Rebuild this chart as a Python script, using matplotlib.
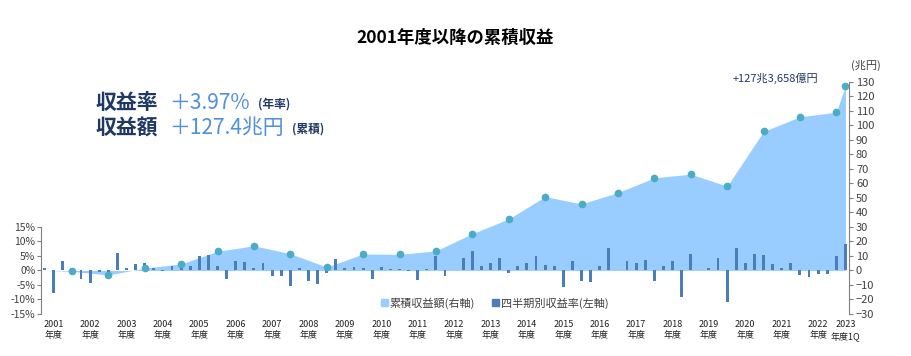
import numpy as np
import matplotlib
matplotlib.use("Agg")
import matplotlib.pyplot as plt
from matplotlib.patches import Patch

plt.rcParams['font.family'] = ['Noto Sans CJK JP', 'DejaVu Sans']

# quarterly return (%) 2001 Q1 .. 2023 Q1, left axis
quarterly_return = [
    0.8, -7.7, 3.2, 0.8,      # 2001
    -3.1, -4.2, -0.6, -1.2,   # 2002
    6.1, 0.8, 2.4, 2.6,       # 2003
    0.7, -0.3, 1.6, 1.6,      # 2004
    1.4, 4.9, 5.2, 1.6,       # 2005
    -2.8, 3.1, 2.8, 0.8,      # 2006
    2.6, -1.9, -1.9, -5.5,    # 2007
    1.0, -3.6, -4.8, -0.9,    # 2008
    3.8, 0.7, 1.2, 1.0,       # 2009
    -3.1, 1.2, 0.5, 0.5,      # 2010
    -0.2, -3.4, 0.4, 4.9,     # 2011
    -2.0, 0.3, 4.4, 6.6,      # 2012
    1.5, 2.5, 4.4, -0.8,      # 2013
    1.5, 2.5, 4.9, 2.0,       # 2014
    1.7, -5.7, 3.3, -3.5,     # 2015
    -4.0, 1.6, 7.6, 0.1,      # 2016
    3.3, 2.7, 3.75, -3.6,     # 2017
    1.4, 3.1, -9.3, 5.8,      # 2018
    0.1, 0.9, 4.2, -10.8,     # 2019
    7.8, 2.7, 5.7, 5.5,       # 2020
    2.3, 0.8, 2.5, -1.4,      # 2021
    -2.2, -1.1, -1.1, 5.0,    # 2022
    9.1,                      # 2023 1Q
]

# cumulative return (trillion yen) at each fiscal year end, right axis
cum_years = list(range(2001, 2024))
cum_return = [-0.6, -3.1, 1.6, 4.5, 13.2, 17.0, 11.6, 2.3, 11.4, 11.1, 13.5,
              25.4, 35.5, 50.9, 45.9, 53.7, 63.8, 66.4, 58.1, 95.8, 105.9,
              109.1, 127.4]

year_labels = [f"{y}\n年度" for y in range(2001, 2023)] + ["2023\n年度1Q"]

bar_color = '#4A7EBB'
area_color = '#99CCFF'
dot_color = '#4BACC6'
navy = '#1F3864'
light_blue = '#4F8FDB'
grey = '#404040'

n_q = len(quarterly_return)
xq = np.arange(n_q)
# cumulative points sit on the last quarter of each year (and 2023 1Q)
x_cum = np.append(np.arange(3, n_q - 1, 4), n_q - 1)
x_area = np.insert(x_cum, 0, 0)
y_area = np.insert(np.array(cum_return), 0, 0.0)

fig = plt.figure(figsize=(9.11, 3.56), dpi=100)
ax = fig.add_axes([0.045, 0.118, 0.887, 0.652])
ax2 = ax.twinx()

# area on the right axis (behind), bars on the left axis (front)
ax2.fill_between(x_area, y_area, 0, color=area_color, lw=0, zorder=1)
ax2.set_ylim(-30, 130)
ax.set_zorder(ax2.get_zorder() + 1)
ax.patch.set_visible(False)

ax.bar(xq, quarterly_return, width=0.32, color=bar_color, zorder=2)
ax.plot(x_cum, cum_return, 'o', color=dot_color, ms=4.5, zorder=3,
        transform=ax2.transData)

ax.set_xlim(-0.4, n_q - 0.6)
ax.set_ylim(-15, 65)
ax.set_yticks(np.arange(-15, 16, 5))
ax.set_yticklabels([f"{v}%" for v in range(-15, 16, 5)])
ax.spines['left'].set_bounds(-15, 15)
for s in ['top', 'bottom', 'right']:
    ax.spines[s].set_visible(False)
ax.spines['left'].set_color('#808080')

ax2.set_yticks(np.arange(-30, 131, 10))
for s in ['top', 'bottom', 'left']:
    ax2.spines[s].set_visible(False)
ax2.spines['right'].set_color('#808080')

label_pos = list(np.arange(1, 88, 4)) + [n_q - 1]
ax.set_xticks(label_pos)
ax.set_xticklabels(year_labels, fontsize=6.5, color='#202020', linespacing=1.3)
ax.tick_params(axis='x', length=0, pad=4)
ax.tick_params(axis='y', labelsize=7.5, labelcolor=grey, length=3,
               color='#808080', pad=1)
ax2.tick_params(axis='y', labelsize=8, labelcolor=grey, length=3,
                color='#808080', pad=2)

handles = [Patch(color=area_color, label='累積収益額(右軸)'),
           Patch(color=bar_color, label='四半期別収益率(左軸)')]
leg = fig.legend(handles=handles, loc='center', bbox_to_anchor=(0.543, 0.149),
                 ncol=2, frameon=False, fontsize=8, handlelength=0.6,
                 handleheight=0.6, handletextpad=0.2, columnspacing=1.5)
for t in leg.get_texts():
    t.set_color(grey)

fig.text(0.5, 0.893, '2001年度以降の累積収益', ha='center', va='center',
         fontsize=12.5, fontweight='bold', color='black')

# summary box
fig.text(0.105, 0.711, '収益率', fontsize=15, fontweight='bold', color=navy,
         va='center', ha='left')
fig.text(0.186, 0.711, '＋3.97%', fontsize=15, color=light_blue,
         va='center', ha='left')
fig.text(0.283, 0.708, '(年率)', fontsize=8.5, fontweight='bold', color=navy,
         va='center', ha='left')
fig.text(0.105, 0.64, '収益額', fontsize=15, fontweight='bold', color=navy,
         va='center', ha='left')
fig.text(0.186, 0.64, '＋127.4兆円', fontsize=15, color=light_blue,
         va='center', ha='left')
fig.text(0.321, 0.637, '(累積)', fontsize=8.5, fontweight='bold', color=navy,
         va='center', ha='left')

fig.text(0.851, 0.781, '+127兆3,658億円', fontsize=8, color=navy,
         ha='center', va='center')
fig.text(0.951, 0.815, '(兆円)', fontsize=8, color=grey, ha='center',
         va='center')

fig.savefig('out.png', dpi=100)
